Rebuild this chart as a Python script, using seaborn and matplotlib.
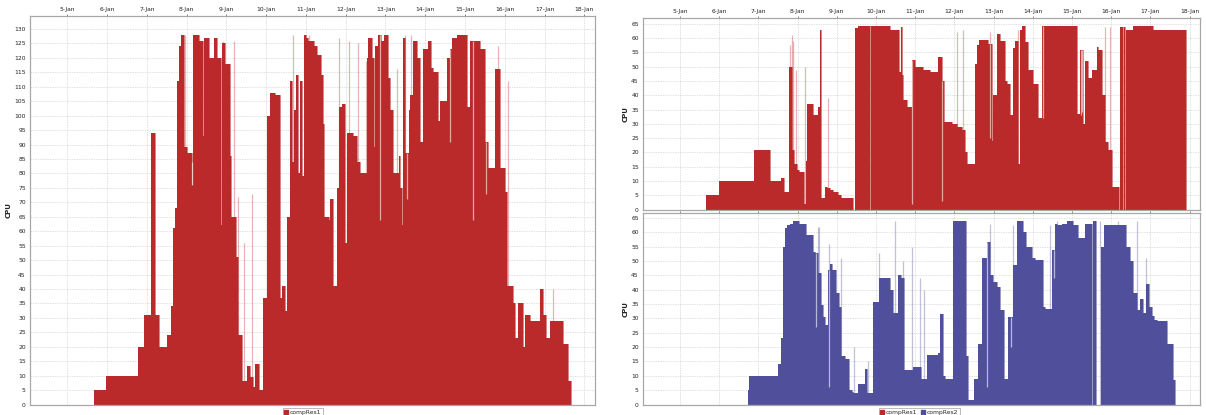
import numpy as np
import matplotlib
matplotlib.use("Agg")
import matplotlib.pyplot as plt
import seaborn as sns

# days are fractional January dates (5.5 = 5-Jan 12:00)
day_ticks = [5, 6, 7, 8, 9, 10, 11, 12, 13, 14, 15, 16, 17, 18]
day_labels = ["5-Jan", "6-Jan", "7-Jan", "8-Jan", "9-Jan", "10-Jan", "11-Jan",
              "12-Jan", "13-Jan", "14-Jan", "15-Jan", "16-Jan", "17-Jan", "18-Jan"]

# left chart: compRes1 (combined)
left_t = [5.66, 5.98, 6.77, 6.92, 7.09, 7.21, 7.31, 7.50, 7.60, 7.655, 7.70, 7.755, 7.80, 7.86,
          7.94, 8.01, 8.13, 8.17, 8.30, 8.41, 8.44, 8.55, 8.68, 8.76, 8.86, 8.89, 8.97, 9.08,
          9.11, 9.24, 9.30, 9.39, 9.51, 9.60, 9.68, 9.72, 9.82, 9.93, 10.02, 10.10, 10.23, 10.35,
          10.39, 10.48, 10.52, 10.59, 10.65, 10.69, 10.75, 10.79, 10.85, 10.90, 10.94, 11.00,
          11.06, 11.19, 11.27, 11.37, 11.42, 11.46, 11.57, 11.61, 11.68, 11.78, 11.83, 11.90,
          11.98, 12.03, 12.19, 12.28, 12.36, 12.53, 12.57, 12.65, 12.70, 12.74, 12.82, 12.88,
          12.95, 13.07, 13.12, 13.20, 13.33, 13.37, 13.41, 13.45, 13.49, 13.58, 13.62, 13.70,
          13.79, 13.87, 13.95, 14.08, 14.14, 14.20, 14.33, 14.37, 14.54, 14.61, 14.67, 14.79,
          15.04, 15.13, 15.38, 15.50, 15.59, 15.75, 15.88, 16.01, 16.05, 16.20, 16.26, 16.34,
          16.47, 16.52, 16.63, 16.89, 16.97, 17.04, 17.14, 17.47, 17.60, 17.66]
left_v = [5, 10, 20, 31, 94, 31, 20, 24, 34, 61, 68, 112, 124, 128,
          89, 87, 76, 128, 126, 93, 127, 120, 127, 120, 62, 125, 118, 86,
          65, 51, 24, 8, 13.5, 9.5, 6, 14, 5, 37, 100, 108, 107, 37,
          41, 32.5, 65, 112, 84, 102, 114, 80, 112, 79, 128, 127,
          126, 124, 121, 114, 97, 65, 64, 71, 41, 75, 103, 104,
          56, 94, 93, 84, 80, 120, 127, 120, 89, 124, 128, 126,
          128, 113, 102, 80, 86, 75, 62, 127, 87, 102, 107, 126,
          120, 91, 123, 126, 116.5, 115, 98, 105, 120, 123, 127, 128,
          103, 126, 123, 91, 82, 116, 82, 73.5, 41, 35, 23, 35,
          20, 31, 29, 40, 31, 23, 29, 21, 8, 0]
left_spike_t = [7.965, 8.92, 9.18, 9.28, 9.45, 9.64, 10.62, 10.67, 11.07, 11.84, 12.07,
                12.30, 12.50, 13.28, 13.50, 13.64, 15.84, 16.09, 17.22]
left_spike_v = [128, 126, 126, 72, 56, 73, 100, 128, 128, 127, 126,
                125, 119, 116, 128, 128, 124, 112, 40]
left_dip_t = [7.67, 8.14, 12.86, 13.53, 14.62, 15.21, 15.54]
left_dip_v = [61, 84, 64, 71, 91, 64, 73]

# right top: compRes1
top_t = [5.66, 5.99, 6.90, 7.30, 7.58, 7.65, 7.79, 7.87, 7.91, 7.98, 8.05, 8.16, 8.21, 8.25,
         8.40, 8.53, 8.57, 8.59, 8.70, 8.74, 8.83, 8.91, 9.04, 9.12, 9.42, 9.46, 9.55, 9.86,
         9.87, 10.36, 10.60, 10.63, 10.655, 10.68, 10.78, 10.91, 10.99, 11.21, 11.38, 11.59,
         11.68, 11.73, 11.93, 12.06, 12.19, 12.27, 12.31, 12.52, 12.58, 12.64, 12.87, 12.95,
         12.99, 13.08, 13.16, 13.29, 13.33, 13.42, 13.50, 13.55, 13.63, 13.67, 13.72, 13.80,
         13.89, 14.01, 14.14, 14.23, 15.12, 15.20, 15.29, 15.33, 15.42, 15.50, 15.63, 15.67,
         15.76, 15.84, 15.93, 16.01, 16.21, 16.23, 16.30, 16.315, 16.36, 16.375, 16.48, 16.55,
         17.07, 17.37, 17.38, 17.91]
top_v = [5, 10, 21, 10, 11, 6, 50, 21, 16, 14, 13, 2, 17, 37,
         33, 36, 63, 4, 8, 7.5, 7, 6, 5, 4, 0, 63.5, 64.3, 0,
         64.3, 63, 48, 64, 47, 38.4, 36, 52.3, 50, 49, 48, 53.3,
         45, 30.7, 30, 29, 28, 20, 16, 51, 57.6, 59.3, 58, 24,
         40, 61.5, 59, 45, 44, 33, 56.5, 59, 16, 63, 64.3, 58.8,
         49, 44, 32, 64.3, 33.6, 55.8, 30, 52, 46, 49, 57, 56,
         40, 23.6, 21, 8, 0, 64, 0, 64, 0, 63, 63, 64.3,
         63, 0, 63, 0]
top_spike_t = [7.81, 7.85, 7.89, 7.95, 8.19, 8.78, 10.65, 12.06, 12.23, 12.91, 13.63, 15.84, 15.97]
top_spike_v = [57.7, 61, 59, 49, 50, 39, 64, 62, 63, 62, 63, 64, 64]
top_dip_t = [10.91, 11.68, 12.91, 14.27, 15.24, 15.26]
top_dip_v = [2, 3, 25, 32, 33, 34]

# right bottom: compRes2
bot_t = [6.74, 6.77, 7.51, 7.58, 7.64, 7.68, 7.74, 7.81, 7.89, 8.04, 8.21, 8.40, 8.44, 8.53,
         8.59, 8.64, 8.70, 8.78, 8.83, 8.89, 8.99, 9.06, 9.12, 9.21, 9.32, 9.38, 9.42, 9.55,
         9.72, 9.76, 9.93, 10.09, 10.36, 10.43, 10.57, 10.65, 10.72, 10.95, 11.16, 11.29,
         11.59, 11.63, 11.72, 11.76, 11.96, 12.30, 12.36, 12.50, 12.61, 12.70, 12.82, 12.91,
         12.99, 13.08, 13.16, 13.27, 13.38, 13.50, 13.61, 13.74, 13.83, 13.97, 14.06, 14.27,
         14.31, 14.48, 14.57, 14.61, 14.74, 14.86, 15.03, 15.16, 15.33, 15.50, 15.54, 15.62,
         15.73, 15.82, 16.39, 16.48, 16.56, 16.67, 16.74, 16.82, 16.88, 16.97, 17.05, 17.09,
         17.16, 17.42, 17.57, 17.63]
bot_v = [5, 10, 14, 23, 55, 61.4, 62.6, 63, 64, 63, 59, 53.2, 52.6, 45.7,
         34.6, 30.5, 27.6, 47, 49, 47, 39, 34, 17, 16, 5, 4.3, 4, 7,
         12.5, 4, 35.8, 44, 40, 32, 45, 44, 12, 13, 9, 17.1,
         18, 31.6, 10, 9, 64, 17, 1.4, 9, 21, 51, 56.7, 45,
         42.7, 41, 32.9, 9, 30.5, 48.5, 64, 60.2, 55, 51, 50.5, 34,
         33.1, 53.8, 63, 62.5, 63, 64, 62.5, 58, 63, 0, 64, 0,
         55, 62.5, 55, 50, 39, 33, 36.6, 32, 42, 34, 31, 29.3,
         29, 21, 8.4, 0]
bot_spike_t = [8.53, 8.56, 8.81, 9.12, 9.45, 9.80, 10.09, 10.49, 10.70, 10.93, 11.12, 11.23,
               12.91, 13.50, 14.44, 14.63, 14.99, 15.72, 16.18, 16.67, 16.88]
bot_spike_v = [62, 62, 56, 51, 20, 15, 52.6, 64, 50, 55, 44, 40,
               63, 62.5, 62.5, 64, 62.5, 64, 64, 64, 51]
bot_dip_t = [8.46, 8.81, 10.47, 12.83, 13.44, 14.53]
bot_dip_v = [27, 6, 32, 6, 20, 44]

RED = "#BA2A2A"
BLUE = "#4F4F9B"
XLIM = (4.06, 18.27)
TICK_FS = 4.3


def draw_series(ax, t, v, spike_t, spike_v, dip_t, dip_v, color, label):
    t = np.asarray(t)
    v = np.asarray(v)
    ax.fill_between(t, v, step="post", color=color, lw=0, zorder=2)
    sns.lineplot(x=t, y=v, ax=ax, color=color, lw=0.4, drawstyle="steps-post",
                 estimator=None, sort=False, zorder=3)
    ax.vlines(spike_t, 0, spike_v, color=color, alpha=0.35, lw=0.9, zorder=2)
    base = v[np.searchsorted(t, dip_t, side="right") - 1]
    ax.vlines(dip_t, dip_v, base, color="white", alpha=0.6, lw=0.9, zorder=4)
    # legend handle only
    ax.plot([], [], "s", color=color, ms=2.2, label=label)


def style_axes(ax, ymax, show_x=True):
    ax.set_xlim(*XLIM)
    ax.set_ylim(0, ymax)
    ax.set_xticks(day_ticks)
    ax.set_xticklabels(day_labels if show_x else [])
    ax.xaxis.tick_top()
    ax.set_yticks(np.arange(0, int(ymax) + 1, 5))
    ax.tick_params(axis="both", labelsize=TICK_FS, length=1.5, width=0.4, pad=1.5,
                   colors="#222222")
    ax.grid(True, color="#d4d4d4", lw=0.5, ls=(0, (2, 1.5)))
    ax.set_axisbelow(True)
    for s in ax.spines.values():
        s.set_color("#a8a8a8")
        s.set_linewidth(0.9)
    ax.set_ylabel("CPU", fontsize=5, fontweight="bold", labelpad=2)
    ax.set_xlabel("")


sns.set_theme(style="whitegrid")
plt.rcParams["font.family"] = ["DejaVu Sans"]

fig = plt.figure(figsize=(12.06, 4.15), dpi=100)
ax_l = fig.add_axes([0.0249, 0.0253, 0.4685, 0.936])
ax_t = fig.add_axes([0.5332, 0.495, 0.4620, 0.4614])
ax_b = fig.add_axes([0.5332, 0.0253, 0.4620, 0.4614])
for ax in (ax_l, ax_t, ax_b):
    ax.set_facecolor("white")

draw_series(ax_l, left_t, left_v, left_spike_t, left_spike_v, left_dip_t, left_dip_v,
            RED, "compRes1")
style_axes(ax_l, 134.5)

draw_series(ax_t, top_t, top_v, top_spike_t, top_spike_v, top_dip_t, top_dip_v,
            RED, "compRes1")
style_axes(ax_t, 67)

draw_series(ax_b, bot_t, bot_v, bot_spike_t, bot_spike_v, bot_dip_t, bot_dip_v,
            BLUE, "compRes2")
style_axes(ax_b, 66.7, show_x=False)

leg_kw = dict(fontsize=4.3, frameon=True, fancybox=False, handlelength=0.6,
              handletextpad=0.3, borderpad=0.3, columnspacing=0.6, markerscale=1.0)
leg = ax_l.legend(loc="upper center", bbox_to_anchor=(0.483, -0.002), **leg_kw)
leg.get_frame().set_edgecolor("#888888")
leg.get_frame().set_linewidth(0.5)

h1, l1 = ax_t.get_legend_handles_labels()
h2, l2 = ax_b.get_legend_handles_labels()
leg2 = ax_b.legend(h1 + h2, l1 + l2, loc="upper center", bbox_to_anchor=(0.4955, -0.002),
                   ncol=2, **leg_kw)
leg2.get_frame().set_edgecolor("#888888")
leg2.get_frame().set_linewidth(0.5)

fig.savefig("out.png", dpi=100, facecolor="white")
